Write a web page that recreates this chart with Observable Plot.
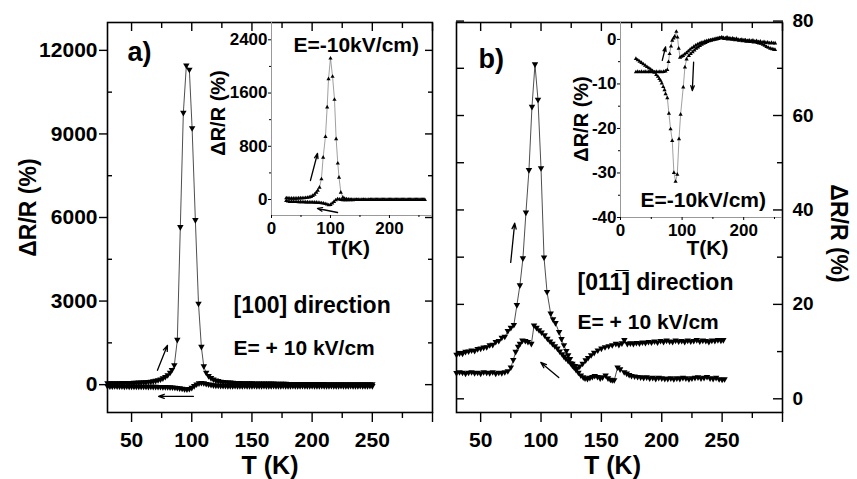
<!DOCTYPE html>
<html><head><meta charset="utf-8">
<script src="https://cdn.jsdelivr.net/npm/d3@7"></script>
<script src="https://cdn.jsdelivr.net/npm/@observablehq/plot@0.6"></script>
<style>
body{margin:0;background:#fff;}
#chart{position:relative;width:857px;height:479px;}
#chart svg{position:absolute;left:0;top:0;}
</style></head><body><div id="chart"></div>
<script>
// ---------- DATA ----------
// Panel a (main): [T (K), dR/R (%)]
const aHeat = [[30,40],[32,40],[34,45],[36,40],[38,45],[40,45],[42,50],[44,50],[46,55],[48,55],[50,55],[52,60],[54,60],[56,65],[58,70],[60,75],[62,80],[64,90],[66,100],[68,110],[70,130],[72,150],[74,180],[76,220],[78,270],[80,330],[82,420],[83.5,520],[85.5,690],[88,1600],[90.5,5650],[93,9750],[95.5,11450],[98,11300],[100.3,9200],[103,5900],[105.6,2900],[108,1350],[110,650],[112,420],[114,300],[116,230],[118,180],[120,140],[122,120],[124,100],[126,90],[128,80],[130,70],[132,65],[134,60],[136,55],[138,50],[140,50],[142,45],[144,45],[146,40],[148,40],[150,40],[152,35],[154,35],[156,35],[158,35],[160,30],[162,30],[164,30],[166,30],[168,30],[170,25],[172,25],[174,25],[176,25],[178,25],[180,20],[182,20],[184,20],[186,20],[188,20],[190,20],[192,20],[194,20],[196,20],[198,15],[200,15],[202,15],[204,15],[206,15],[208,15],[210,15],[212,10],[214,10],[216,10],[218,10],[220,10],[222,10],[224,10],[226,10],[228,10],[230,10],[232,10],[234,10],[236,10],[238,10],[240,10],[242,10],[244,10],[246,10],[248,10],[250,10]];
const aCool = [[30,-65],[32,-70],[34,-70],[36,-65],[38,-70],[40,-70],[42,-70],[44,-75],[46,-70],[48,-75],[50,-75],[52,-75],[54,-80],[56,-75],[58,-80],[60,-80],[62,-80],[64,-85],[66,-80],[68,-85],[70,-85],[72,-90],[74,-90],[76,-95],[78,-95],[80,-100],[82,-105],[84,-110],[86,-115],[88,-125],[90,-140],[92,-155],[94,-170],[96,-175],[98,-160],[100,-120],[102,-60],[104,0],[106,40],[108,55],[110,45],[112,20],[114,0],[116,-15],[118,-30],[120,-40],[122,-45],[124,-50],[126,-55],[128,-55],[130,-60],[132,-60],[134,-60],[136,-55],[138,-60],[140,-60],[142,-60],[144,-55],[146,-60],[148,-60],[150,-60],[152,-55],[154,-60],[156,-60],[158,-60],[160,-55],[162,-60],[164,-60],[166,-60],[168,-55],[170,-60],[172,-60],[174,-60],[176,-55],[178,-60],[180,-60],[182,-60],[184,-55],[186,-60],[188,-60],[190,-60],[192,-55],[194,-60],[196,-60],[198,-60],[200,-55],[202,-60],[204,-60],[206,-60],[208,-55],[210,-60],[212,-60],[214,-60],[216,-55],[218,-60],[220,-60],[222,-60],[224,-55],[226,-60],[228,-60],[230,-60],[232,-55],[234,-60],[236,-60],[238,-60],[240,-55],[242,-60],[244,-60],[246,-60],[248,-55],[250,-60]];
// Panel a inset (E = -10 kV/cm)
const iaHeat = [[25,25],[28,22],[31,20],[34,20],[37,20],[40,20],[43,20],[46,22],[49,22],[52,25],[55,25],[58,28],[61,32],[64,38],[67,45],[70,60],[73,80],[76,110],[78.5,140],[81.4,185],[84.7,311],[87.6,636],[91.5,947],[94.4,1390],[96.7,1815],[100,2125],[103.5,1850],[106.8,1505],[109.6,913],[112.4,546],[114.5,335],[117.5,110],[121,35],[124,15],[127,8],[130,5],[133,3],[136,2],[140,0],[144,2],[148,0],[152,1],[156,0],[160,1],[164,0],[168,0],[172,1],[176,0],[180,0],[184,1],[188,0],[192,0],[196,0],[200,1],[204,0],[208,0],[212,0],[216,0],[220,0],[224,0],[228,0],[232,0],[236,0],[240,0],[244,0],[248,0],[252,0],[256,0],[260,0]];
const iaCool = [[25,-15],[28,-25],[31,-30],[34,-30],[37,-30],[40,-32],[43,-32],[46,-34],[49,-34],[52,-35],[55,-36],[58,-37],[61,-38],[64,-39],[67,-40],[70,-40],[73,-41],[76,-42],[79,-44],[82,-46],[85,-50],[88,-55],[91,-62],[94,-70],[97,-80],[100,-75],[103,-55],[106,-30],[109,-5],[112,10],[115,5],[118,0],[121,-5],[124,-5],[127,-4],[130,-4],[134,-3],[138,-3],[142,-2],[146,-2],[150,-2],[154,-1],[158,-1],[162,-1],[166,-1],[170,0],[174,0],[178,0],[182,0],[186,0],[190,0],[194,0],[198,0],[202,0],[206,0],[210,0],[214,0],[218,0],[222,0],[226,0],[230,0],[234,0],[238,0],[242,0],[246,0],[250,0],[254,0],[258,0]];
// Panel b (main)
const bHeat = [[30,9.3],[32.5,9.6],[35,9.5],[37.5,9.9],[40,10.0],[42.5,10.2],[45,10.1],[47.5,10.5],[50,10.6],[52.5,10.8],[55,10.9],[57.5,11.3],[60,11.4],[62.5,12.0],[65,12.2],[67.5,12.9],[70,13.1],[72.5,14.3],[75,15.0],[77.5,15.6],[80,19.8],[82.5,24.0],[85,29.7],[87.5,39.4],[90,48.4],[92.5,61.8],[95,70.8],[97.5,63.3],[100,48.8],[102.5,29.9],[105,22.6],[108,18.0],[110,16.8],[112,16.0],[115,14.1],[117,12.6],[119,11.3],[121,10.1],[122.5,9.2],[124,8.4],[126,7.4],[128,6.9],[130,6.4],[132,6.8],[134.5,7.4],[137,8.1],[139,8.6],[141.5,9.2],[144,9.7],[147,10.2],[150,10.6],[153,10.9],[156,11.1],[159,11.3],[162,11.6],[164.5,11.4],[167,11.7],[169,12.4],[171.5,11.6],[174,11.7],[176.5,11.6],[179,11.8],[181.5,11.7],[184,11.9],[186.5,11.8],[189,12.0],[191.5,11.9],[194,12.1],[196.5,11.9],[199,12.2],[201.5,12.0],[204,12.3],[206.5,12.1],[209,12.0],[211.5,12.3],[214,12.1],[216.5,12.2],[219,12.0],[221.5,12.3],[224,12.1],[226.5,12.2],[229,12.4],[231.5,12.1],[234,12.3],[236.5,12.2],[239,12.0],[241.5,12.3],[244,12.2],[246.5,12.4],[249,12.3],[251,12.4]];
const bCool = [[30,5.4],[32.5,5.6],[35,5.5],[37.5,5.3],[40,5.5],[42.5,5.6],[45,5.4],[47.5,5.5],[50,5.3],[52.5,5.6],[55,5.5],[57.5,5.4],[60,5.6],[62.5,5.3],[65,5.5],[67.5,5.4],[70,5.6],[72.5,5.8],[75,6.6],[77,8.2],[79,9.9],[81,11.0],[82.5,11.6],[84.6,12.3],[87,12.2],[89.2,12.0],[92,11.6],[94.2,15.5],[96.3,15.0],[98.4,14.5],[100.5,14.0],[103,13.4],[105.3,12.7],[107.5,12.1],[109.5,11.6],[111.5,11.1],[113.6,10.6],[115.5,10.0],[117.5,9.4],[119,8.9],[120.5,8.5],[122.5,8.0],[124.5,7.5],[126,7.0],[127.4,6.6],[129,6.1],[131,5.5],[133,4.9],[135,4.5],[136.5,4.3],[138.5,4.2],[140.5,4.4],[142.5,4.6],[144.5,4.8],[146.8,4.6],[149,4.3],[151,4.5],[153.5,4.9],[155.5,4.3],[157.5,4.0],[159,3.9],[160.6,3.9],[163.4,6.6],[165.5,6.2],[168.9,5.6],[171,5.3],[173,5.0],[175,4.8],[177.5,4.7],[180,4.6],[182.5,4.5],[185,4.4],[187.5,4.5],[190,4.3],[192.5,4.4],[195,4.2],[197.5,4.4],[200,4.3],[202.5,4.2],[205,4.2],[207.5,4.3],[210,4.1],[212.5,4.3],[215,4.2],[217.5,4.4],[220,4.3],[222.5,4.1],[225,4.3],[227.5,4.4],[230,4.5],[232.5,4.3],[235,4.4],[237.5,4.6],[240,4.3],[242.5,4.2],[245,4.4],[247.5,4.1],[250,4.0],[252,4.1]];
// Panel b inset (E = -10 kV/cm)
const ibHeat = [[25,-7.3],[28,-7.2],[31,-7.3],[34,-7.2],[37,-7.3],[40,-7.2],[43,-7.3],[46,-7.2],[49,-7.3],[52,-7.2],[55,-7.3],[58,-7.2],[61,-7.3],[64,-7.2],[67,-7.3],[70,-7.2],[73,-7.1],[76,-6.8],[78,-5.0],[79.7,-3.2],[82,-1.5],[84,-0.2],[86,0.3],[88,0.7],[90.7,1.8],[92.5,0.5],[94.5,-2.0],[96.7,-4.0],[99,-3.8],[101.5,-3.6],[104,-3.3],[107,-3.0],[110,-2.6],[113,-2.2],[116,-1.9],[119,-1.6],[122,-1.3],[125,-1.1],[128,-0.9],[131,-0.7],[134,-0.6],[137,-0.4],[140,-0.3],[143,-0.2],[146,-0.1],[149,0.0],[152,0.1],[155,0.2],[158,0.3],[161,0.4],[164,0.5],[167,0.4],[170,0.3],[173,0.5],[176,0.3],[179,0.2],[182,0.3],[185,0.1],[188,0.2],[191,0.0],[194,-0.1],[197,0.0],[200,-0.2],[203,-0.1],[206,-0.3],[209,-0.2],[212,-0.3],[215,-0.2],[218,-0.4],[221,-0.3],[224,-0.5],[227,-0.4],[230,-0.6],[233,-0.5],[236,-0.7],[239,-0.6],[242,-0.8],[245,-0.7],[248,-0.8],[251,-0.8]];
const ibCool = [[25,-4.3],[28,-4.6],[31,-4.9],[34,-5.2],[37,-5.5],[40,-5.8],[43,-6.1],[46,-6.4],[49,-6.7],[52,-7.0],[55,-7.4],[58,-7.9],[60.7,-8.3],[63,-8.8],[65,-9.2],[67,-9.8],[69.4,-10.6],[71.5,-11.3],[73.2,-12.2],[76,-13.1],[78.6,-16.6],[81.3,-20.1],[84,-22.7],[86.7,-29.9],[89.4,-31.9],[92.2,-30.3],[95,-22.3],[97.6,-16.8],[101.9,-10.7],[104.6,-6.2],[107.3,-4.4],[111,-3.6],[114,-3.2],[117,-2.8],[120,-2.4],[123,-2.0],[126,-1.7],[129,-1.4],[132,-1.1],[135,-0.9],[138,-0.7],[141,-0.5],[144,-0.3],[147,-0.2],[150,-0.1],[153,0.0],[156,0.1],[159,0.2],[162,0.3],[165,0.4],[168,0.2],[171,0.3],[174,0.1],[177,0.2],[180,0.0],[183,0.1],[186,-0.1],[189,0.0],[192,-0.2],[195,-0.1],[198,-0.3],[201,-0.2],[204,-0.4],[207,-0.3],[210,-0.5],[213,-0.4],[216,-0.6],[219,-0.5],[222,-0.7],[225,-0.8],[228,-0.9],[231,-1.1],[234,-1.3],[237,-1.6],[240,-1.8],[243,-2.0],[246,-2.1],[249,-2.2],[251,-2.3]];
// Direction arrows (data space)
const arrowsA = [{x1:71.5,y1:513,x2:79.8,y2:1411},{x1:101.4,y1:-420,x2:72.4,y2:-420}];
const arrowsIA = [{x1:66,y1:286,x2:78,y2:692},{x1:112,y1:-195,x2:78,y2:-135}];
const arrowsB = [{x1:74.9,y1:28.9,x2:78.2,y2:37.2},{x1:114.7,y1:4.5,x2:99.8,y2:7.7}];
const arrowsIB = [{x1:67.8,y1:-4.7,x2:73.2,y2:-1.7},{x1:118.7,y1:-5.1,x2:116.6,y2:-11.5}];
// Tick values
const tMajor = [50,100,150,200,250,300], tMinor = [75,125,175,225,275], tLabels = [50,100,150,200,250];
const aYMajor = [0,3000,6000,9000,12000], aYMinor = [1500,4500,7500,10500];
const bYMajor = [0,20,40,60,80], bYMinor = [10,30,50,70];
const iaY = [0,800,1600,2400], iaYMinor = [400,1200,2000];
const ibY = [-40,-30,-20,-10,0], ibYMinor = [-35,-25,-15,-5];
const iX = [0,100,200], iXMinor = [50,150,250];
const texts = {a:"a)", b:"b)", dirA:"[100] direction", dirB:"[011\u0305] direction", field:"E= + 10 kV/cm", fieldInset:"E=-10kV/cm)", yLab:"\u0394R/R (%)", xLab:"T (K)", xLabInset:"T(K)"};

// ---------- HELPERS ----------
const FONT = "'Liberation Sans', Arial, sans-serif";
const W = 857, H = 479;
const triDown = {draw(c, s){ const r = Math.sqrt(s/Math.PI); c.moveTo(0, r); c.lineTo(-0.95*r, -0.65*r); c.lineTo(0.95*r, -0.65*r); c.closePath(); }};
const triUp = {draw(c, s){ const r = Math.sqrt(s/Math.PI); c.moveTo(0, -r); c.lineTo(-0.95*r, 0.65*r); c.lineTo(0.95*r, 0.65*r); c.closePath(); }};
const fmt = d => String(d);
const tickX = (t, anchor, size, sw=1.4) => Plot.axisX(t, {anchor, tickSize:size, fill:"none", label:null, strokeWidth:sw});
const tickY = (t, anchor, size, sw=1.4) => Plot.axisY(t, {anchor, tickSize:size, fill:"none", label:null, strokeWidth:sw});
const labX = (t, pad, fs) => Plot.axisX(t, {anchor:"bottom", tickSize:0, tickPadding:pad, fontSize:fs, tickFormat:fmt, label:null});
const labY = (t, anchor, pad, fs) => Plot.axisY(t, {anchor, tickSize:0, tickPadding:pad, fontSize:fs, tickFormat:fmt, label:null});
const note = (s, o) => Plot.text([s], {text:d=>d, fontWeight:"bold", fill:"black", textAnchor:"middle", lineAnchor:"middle", ...o});
const series = (data, sym, r, lineStroke, lw) => [
  Plot.line(data, {x:d=>d[0], y:d=>d[1], stroke:lineStroke, strokeWidth:lw}),
  Plot.dot(data, {x:d=>d[0], y:d=>d[1], symbol:sym, r, fill:"black", stroke:"none"})
];
const arrows = (a, len) => Plot.arrow(a, {x1:"x1", y1:"y1", x2:"x2", y2:"y2", stroke:"black", strokeWidth:1.3, headLength:len, headAngle:40});
function mk(m, xd, yd, marks){
  return Plot.plot({width:W, height:H, marginLeft:m[0], marginRight:m[1], marginTop:m[2], marginBottom:m[3],
    x:{domain:xd}, y:{domain:yd},
    style:{background:"transparent", fontFamily:FONT, fontWeight:"bold", color:"black", overflow:"visible"},
    marks});
}

// ---------- PANEL A ----------
const panelA = mk([107, 425, 22, 67], [30,300], [-1000,13000], [
  tickX(tMajor, "bottom", 10), tickX(tMinor, "bottom", 6),
  tickX(tMajor, "top", -8), tickX(tMinor, "top", -5),
  tickY(aYMajor, "left", 8), tickY(aYMinor, "left", -5),
  tickY(aYMajor, "right", -8), tickY(aYMinor, "right", -5),
  labX(tLabels, 20, 21), labY(aYMajor, "left", 10, 21),
  ...series(aCool, triDown, 3.4, "#222", 0.8),
  ...series(aHeat, triDown, 3.4, "#222", 0.8),
  arrows(arrowsA, 7),
  note(texts.a, {frameAnchor:"top-left", dx:20, dy:30, textAnchor:"start", fontSize:27}),
  note(texts.dirA, {frameAnchor:"top-left", dx:126, dy:283, textAnchor:"start", fontSize:23}),
  note(texts.field, {frameAnchor:"top-left", dx:126, dy:326, textAnchor:"start", fontSize:21}),
  note(texts.xLab, {frameAnchor:"bottom", dy:53, fontSize:25}),
  note(texts.yLab, {frameAnchor:"left", dx:-79, dy:-10, rotate:-90, fontSize:23}),
  Plot.frame({stroke:"black", strokeWidth:1.6})
]);

const insetA = mk([271, 425, 22, 264], [0,273], [-240,2660], [
  Plot.ruleX([0], {stroke:"#999", strokeWidth:1}),
  Plot.ruleY([-240], {stroke:"#999", strokeWidth:1}),
  tickX(iX, "bottom", 3, 1), tickX(iXMinor, "bottom", 2, 1),
  tickY(iaY, "left", 3, 1), tickY(iaYMinor, "left", 2, 1),
  labX(iX, 6, 17), labY(iaY, "left", 4, 17),
  ...series(iaCool, triUp, 2.2, "#777", 0.7),
  ...series(iaHeat, triUp, 2.2, "#777", 0.7),
  arrows(arrowsIA, 6),
  note(texts.fieldInset, {frameAnchor:"top-left", dx:22, dy:23, textAnchor:"start", fontSize:21}),
  note(texts.xLabInset, {frameAnchor:"bottom", dx:-3, dy:33, fontSize:21}),
  note(texts.yLab, {frameAnchor:"left", dx:-53, dy:-6, rotate:-90, fontSize:20})
]);

// ---------- PANEL B ----------
const panelB = mk([456, 75, 22, 67], [30,300], [-2.9,79.7], [
  tickX(tMajor, "bottom", 10), tickX(tMinor, "bottom", 6),
  tickX(tMajor, "top", -8), tickX(tMinor, "top", -5),
  tickY(bYMajor, "left", -8), tickY(bYMinor, "left", -8),
  tickY(bYMajor, "right", -10), tickY(bYMinor, "right", -6),
  labX(tLabels, 20, 21), labY(bYMajor, "right", 10, 19),
  ...series(bCool, triDown, 3.4, "#222", 0.8),
  ...series(bHeat, triDown, 3.4, "#222", 0.8),
  arrows(arrowsB, 7),
  note(texts.b, {frameAnchor:"top-left", dx:22, dy:37, textAnchor:"start", fontSize:27}),
  note(texts.dirB, {frameAnchor:"top-left", dx:121, dy:260, textAnchor:"start", fontSize:23}),
  note(texts.field, {frameAnchor:"top-left", dx:121, dy:300, textAnchor:"start", fontSize:21}),
  note(texts.xLab, {frameAnchor:"bottom", dx:-7, dy:53, fontSize:25}),
  note(texts.yLab, {frameAnchor:"right", dx:56, dy:16, rotate:90, fontSize:23}),
  Plot.frame({stroke:"black", strokeWidth:1.6})
]);

const insetB = mk([620, 75, 22, 262], [0,263], [-40,3.8], [
  Plot.ruleX([0], {stroke:"#999", strokeWidth:1}),
  Plot.ruleY([-40], {stroke:"#999", strokeWidth:1}),
  tickX(iX, "bottom", 3, 1), tickX(iXMinor, "bottom", 2, 1),
  tickY(ibY, "left", 3, 1), tickY(ibYMinor, "left", 2, 1),
  labX(iX, 6, 17), labY(ibY, "left", 4, 17),
  ...series(ibCool, triUp, 2.2, "#777", 0.7),
  ...series(ibHeat, triUp, 2.2, "#777", 0.7),
  arrows(arrowsIB, 6),
  note(texts.fieldInset, {frameAnchor:"top-left", dx:20, dy:178, textAnchor:"start", fontSize:21}),
  note(texts.xLabInset, {frameAnchor:"bottom", dx:6, dy:31, fontSize:21}),
  note(texts.yLab, {frameAnchor:"left", dx:-39, dy:-1, rotate:-90, fontSize:20})
]);

const root = document.getElementById("chart");
[panelA, panelB, insetA, insetB].forEach(p => root.appendChild(p));
</script></body></html>
